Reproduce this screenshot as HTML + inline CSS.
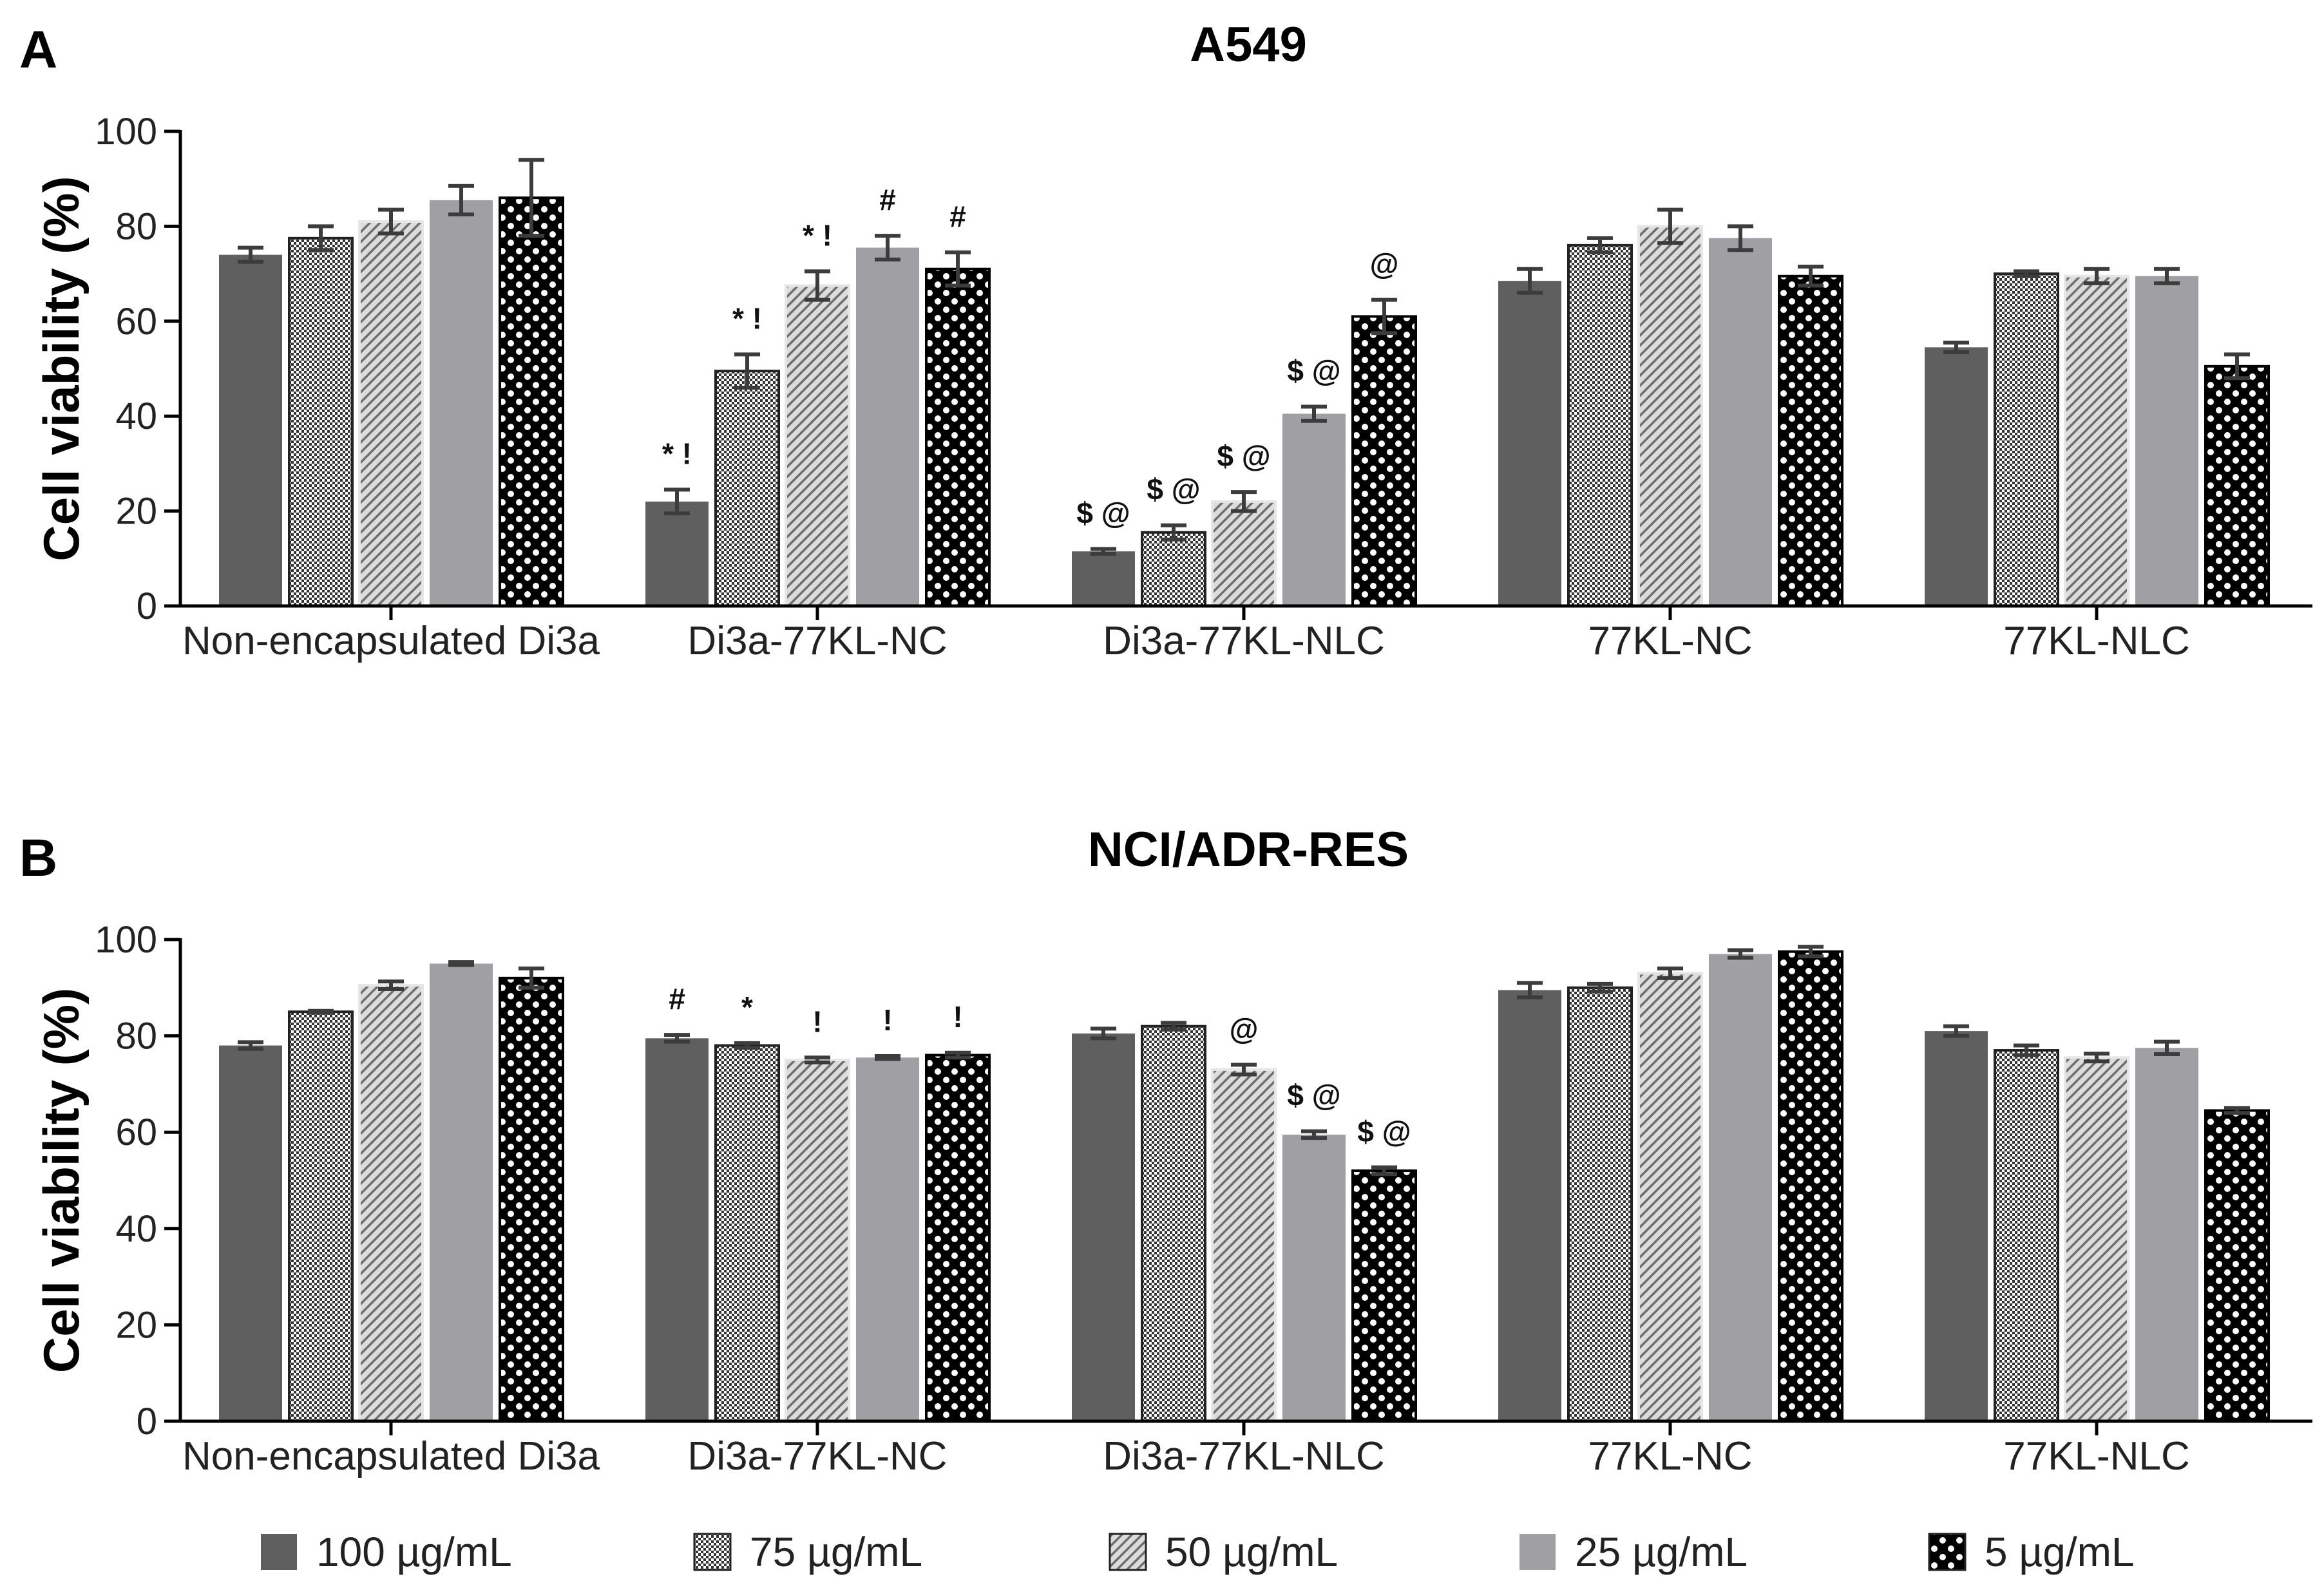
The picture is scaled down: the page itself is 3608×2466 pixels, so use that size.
<!DOCTYPE html>
<html><head><meta charset="utf-8"><style>
html,body{margin:0;padding:0;background:#fff}
svg{display:block}
text{font-family:"Liberation Sans",sans-serif}
</style></head><body>
<svg id="chart" width="3608" height="2466" viewBox="0 0 3608 2466" xmlns="http://www.w3.org/2000/svg">
<defs>
<pattern id="p75" patternUnits="userSpaceOnUse" width="8" height="8"><rect width="8" height="8" fill="#fff"/><rect width="4" height="4" fill="#333"/><rect x="4" y="4" width="4" height="4" fill="#333"/></pattern>
<pattern id="p50" patternUnits="userSpaceOnUse" width="11" height="11" patternTransform="rotate(45)"><rect width="11" height="11" fill="#dcdcdc"/><rect width="3.5" height="11" fill="#6e6e6e"/></pattern>
<pattern id="p5" patternUnits="userSpaceOnUse" width="26" height="26"><rect width="26" height="26" fill="#000"/><circle cx="0" cy="0" r="5" fill="#fff"/><circle cx="26" cy="0" r="5" fill="#fff"/><circle cx="0" cy="26" r="5" fill="#fff"/><circle cx="26" cy="26" r="5" fill="#fff"/><circle cx="13" cy="13" r="5" fill="#fff"/></pattern>
</defs>
<g id="root"></g>
</svg>
<script>
const categories = ["Non-encapsulated Di3a","Di3a-77KL-NC","Di3a-77KL-NLC","77KL-NC","77KL-NLC"];
const seriesNames = ["100 µg/mL","75 µg/mL","50 µg/mL","25 µg/mL","5 µg/mL"];
const yTicks = [0,20,40,60,80,100];
// Panel A (A549): values[group][series]
const aValues = [[74,77.5,81,85.5,86],[22,49.5,67.5,75.5,71],[11.5,15.5,22,40.5,61],[68.5,76,80,77.5,69.5],[54.5,70,69.5,69.5,50.5]];
const aErrors = [[1.5,2.5,2.5,3,8],[2.5,3.5,3,2.5,3.5],[0.5,1.5,2,1.5,3.5],[2.5,1.5,3.5,2.5,2],[1,0.5,1.5,1.5,2.5]];
const aLabels = [["","","","",""],["* !","* !","* !","#","#"],["$ @","$ @","$ @","$ @","@"],["","","","",""],["","","","",""]];
// Panel B (NCI/ADR-RES)
const bValues = [[78,85,90.5,95,92],[79.5,78,75,75.5,76],[80.5,82,73,59.5,52],[89.5,90,93,97,97.5],[81,77,75.5,77.5,64.5]];
const bErrors = [[0.7,0.2,0.8,0.3,2],[0.7,0.5,0.5,0.3,0.5],[1,0.7,1,0.7,0.7],[1.5,0.8,1,0.8,1],[1,1,0.8,1.3,0.5]];
const bLabels = [["","","","",""],["#","*","!","!","!"],["","","@","$ @","$ @"],["","","","",""],["","","","",""]];

const fills = ["#5f5f5f","url(#p75)","url(#p50)","#a0a0a4","url(#p5)"];
const strokes = ["none","#222","#e6e6e6","none","#000"];
const NS="http://www.w3.org/2000/svg";
const root=document.getElementById('root');
function mk(tag,attrs,parent,txt){const e=document.createElementNS(NS,tag);for(const k in attrs)e.setAttribute(k,attrs[k]);if(txt!==undefined)e.textContent=txt;(parent||root).appendChild(e);return e;}

function panel(name,title,letter,top0,top100,values,errors,labels,letterY,titleY){
  const g=mk('g',{});
  
  
  const axX=280, axEnd=3590;
  const y=v=>top0-(top0-top100)*v/100;
  const gx=i=>607+i*662;
  const lt=mk('text',{x:30,y:letterY,'font-size':82,'font-weight':'bold'},g,letter);
  
  
  const tt=mk('text',{x:1938,y:titleY,'font-size':76,'font-weight':'bold','text-anchor':'middle'},g,title);
  
  
  const yt=mk('text',{transform:`translate(122,${(top0+top100)/2}) rotate(-90)`,'font-size':78,'font-weight':'bold','text-anchor':'middle'},g,'Cell viability (%)');
  
  
  values.forEach((grp,i)=>{
    grp.forEach((v,j)=>{
      const x=gx(i)-267+j*109, w=98;
      const r=mk('rect',{x:x,y:y(v),width:w,height:top0-y(v),fill:fills[j],stroke:strokes[j],'stroke-width':strokes[j]==='none'?0:4},g);
      
      
      const cx=x+w/2, e=errors[i][j];
      const eb=mk('path',{d:`M${cx},${y(v+e)}V${y(v-e)}M${cx-20},${y(v+e)}H${cx+20}M${cx-20},${y(v-e)}H${cx+20}`,stroke:'#3c3c3c','stroke-width':6,fill:'none'},g);
      
      
      if(labels[i][j]){
        const at=mk('text',{x:cx,y:y(v+e)-40,'font-size':46,'font-weight':'bold','text-anchor':'middle',fill:'#111'},g,labels[i][j]);
        
        
      }
    });
  });
  const ax=mk('path',{d:`M${axX},${top100-2}V${top0}M${axX-25},${top0}H${axEnd}`,stroke:'#000','stroke-width':5,fill:'none'},g);
  
  
  yTicks.forEach(t=>{
    mk('path',{d:`M${axX-25},${y(t)}H${axX}`,stroke:'#000','stroke-width':5},g);
    const tl=mk('text',{x:axX-36,y:y(t)+20,'font-size':58,'text-anchor':'end',fill:'#222'},g,t);
    
    
  });
  categories.forEach((c,i)=>{
    mk('path',{d:`M${gx(i)},${top0}V${top0+22}`,stroke:'#000','stroke-width':5},g);
    const cl=mk('text',{x:gx(i),y:top0+75,'font-size':62,'text-anchor':'middle',fill:'#222'},g,c);
    
    
  });
}
panel('panel-a-a549','A549','A',941,204,aValues,aErrors,aLabels,105,95);
panel('panel-b-nci-adr-res','NCI/ADR-RES','B',2207,1459,bValues,bErrors,bLabels,1360,1345);

const lg=mk('g',{});


const legX=[405,1078,1723,2359,2995];
seriesNames.forEach((s,j)=>{
  const it=mk('g',{},lg);
  
  
  mk('rect',{x:legX[j],y:2382,width:56,height:56,fill:fills[j],stroke:strokes[j]==='none'?'none':'#222','stroke-width':3},it);
  mk('text',{x:legX[j]+86,y:2432,'font-size':64,fill:'#222'},it,s);
});
</script>
</body></html>
